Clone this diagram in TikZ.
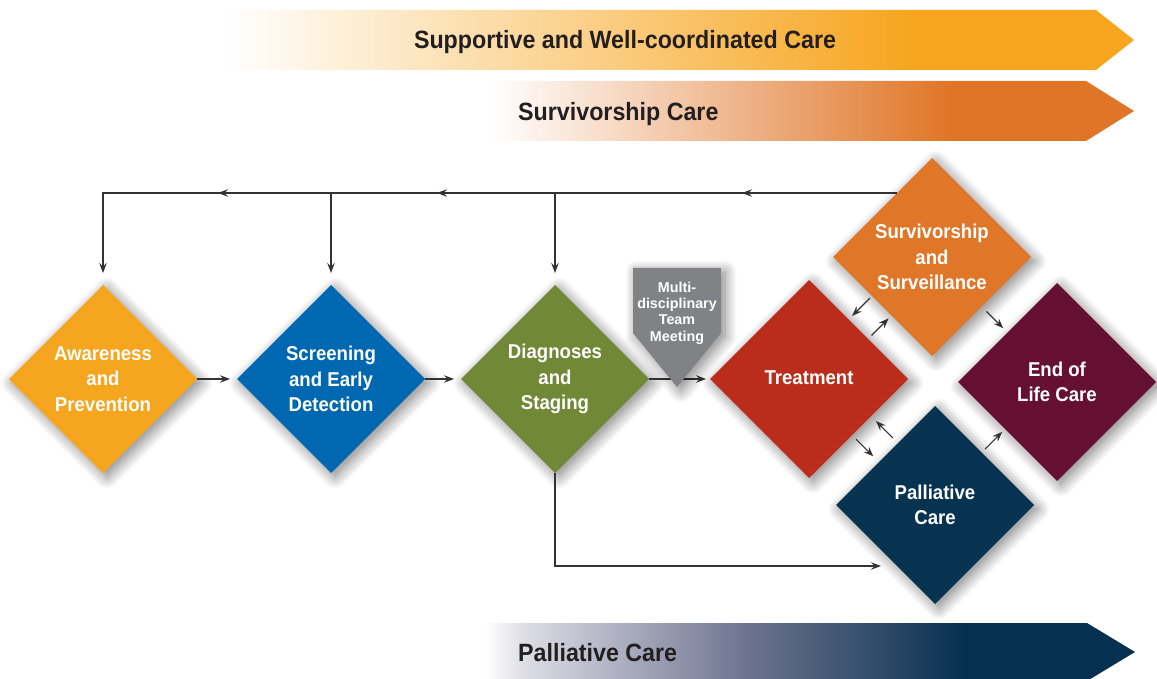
\documentclass[tikz,border=0pt]{standalone}
\usepackage{fontspec}
\setmainfont{Liberation Sans}
\newfontfamily\cfont[FakeStretch=0.93]{Liberation Sans}
\usetikzlibrary{shapes.geometric,arrows.meta,calc,decorations.markings,shadows.blur}
\definecolor{cAw}{HTML}{F6A51E}
\definecolor{cSc}{HTML}{0067B1}
\definecolor{cDg}{HTML}{718837}
\definecolor{cTr}{HTML}{BA2D1A}
\definecolor{cSv}{HTML}{E07628}
\definecolor{cEl}{HTML}{651033}
\definecolor{cPa}{HTML}{073351}
\definecolor{cMdt}{HTML}{808285}
\definecolor{cTop}{HTML}{F7A51E}
\definecolor{cSurv}{HTML}{E07527}
\definecolor{cPalLight}{HTML}{DDDDE5}
\definecolor{cPalMid}{HTML}{6E7490}
\definecolor{cPalEnd}{HTML}{06304F}
\definecolor{cTxt}{HTML}{231F20}
\definecolor{cLine}{HTML}{333333}
\pgfdeclarehorizontalshading{topshade}{100bp}{color(0bp)=(white); color(25bp)=(white); color(62.8bp)=(cTop); color(100bp)=(cTop)}
\pgfdeclarehorizontalshading{survshade}{100bp}{color(0bp)=(white); color(25bp)=(white); color(60.7bp)=(cSurv); color(100bp)=(cSurv)}
\pgfdeclarehorizontalshading{palshade}{100bp}{color(0bp)=(white); color(25bp)=(white); color(28bp)=(cPalLight); color(45bp)=(cPalMid); color(62bp)=(cPalEnd); color(100bp)=(cPalEnd)}
\tikzset{
  >={Stealth[length=10pt,width=7.5pt,inset=3.5pt]},
  softshadow/.style={blur shadow={shadow xshift=4pt, shadow yshift=-4pt, shadow blur radius=12pt, shadow blur steps=14, shadow opacity=50}},
  dia/.style={diamond, aspect=1, inner sep=0pt, outer sep=0pt, minimum width=#1, minimum height=#1,
    text=white, align=center, font=\cfont\bfseries\fontsize{20}{25.5}\selectfont, softshadow},
  bantext/.style={text=cTxt, font=\cfont\bfseries\fontsize{25}{30}\selectfont, inner sep=0pt},
  arr/.style={color=cLine, line width=1.1pt, ->}
}
\begin{document}
\begin{tikzpicture}[x=1pt,y=-1pt]
\useasboundingbox (0,0) rectangle (1157,679);
% banners
\shade[shading=topshade] (225,10) -- (1096,10) -- (1134,40) -- (1096,70) -- (225,70) -- cycle;
\node[bantext, anchor=base] (b1) at (625,49) {Supportive and Well-coordinated Care};
\shade[shading=survshade] (490,81) -- (1086,81) -- (1134,111) -- (1086,141) -- (490,141) -- cycle;
\node[bantext, anchor=base west] (b2) at (518,121) {Survivorship Care};
\shade[shading=palshade] (485,623) -- (1087,623) -- (1135,652) -- (1087,681) -- (485,681) -- cycle;
\node[bantext, anchor=base west] (b3) at (518,661) {Palliative Care};
% diamonds
\node[dia=188, fill=cAw] (aw) at (103,379) {Awareness\\and\\Prevention};
\node[dia=188, fill=cSc] (sc) at (331,379) {Screening\\and Early\\Detection};
\node[dia=188, fill=cDg] (dg) at (555,379) {Diagnoses\\and\\Staging};
\node[dia=198, fill=cSv] (sv) at (932,257) {Survivorship\\and\\Surveillance};
\node[dia=198, fill=cEl] (el) at (1057,382) {End of\\Life Care};
\node[dia=198, fill=cTr] (tr) at (809,379) {\raisebox{3pt}{Treatment}};
\node[dia=198, fill=cPa] (pa) at (935,505) {Palliative\\Care};
% feedback line on top
\coordinate (fb) at ($(sv.north)!0.3535!(sv.west)$);
\draw[arr, postaction={decorate}, decoration={markings,
    mark=at position 155pt with {\arrow{>}},
    mark=at position 460pt with {\arrow{>}},
    mark=at position 679pt with {\arrow{>}}}]
  (fb) -- (fb -| aw.north) -- ([yshift=12pt]aw.north);
\draw[arr] (sc.north |- fb) -- ([yshift=12pt]sc.north);
\draw[arr] (dg.north |- fb) -- ([yshift=12pt]dg.north);
% main flow
\draw[arr, shorten >=7pt] (aw.east) -- (sc.west);
\draw[arr, shorten >=7pt] (sc.east) -- (dg.west);
\draw[arr, shorten >=4pt] (dg.east) -- (tr.west);
% bottom line to palliative
\coordinate (pin) at ($(pa.west)!0.616!(pa.south)$);
\draw[arr, shorten >=16pt] (dg.south) -- (dg.south |- pin) -- (pin);
% small diagonal arrows
\coordinate (s1) at ($(sv.west)!0.394!(sv.south)$);
\draw[arr, shorten <=3pt, shorten >=5pt] (s1) -- ($(tr.north)!(s1)!(tr.east)$);
\coordinate (t1) at ($(tr.north)!0.596!(tr.east)$);
\draw[arr, shorten <=5pt, shorten >=4pt] (t1) -- ($(sv.west)!(t1)!(sv.south)$);
\coordinate (s2) at ($(sv.east)!0.5!(sv.south)$);
\draw[arr, shorten <=7pt, shorten >=6pt] (s2) -- ($(el.north)!(s2)!(el.west)$);
\coordinate (p1) at ($(pa.north)!0.374!(pa.west)$);
\draw[arr, shorten <=7pt, shorten >=7pt] (p1) -- ($(tr.east)!(p1)!(tr.south)$);
\coordinate (t2) at ($(tr.east)!0.566!(tr.south)$);
\draw[arr, shorten <=6pt, shorten >=8pt] (t2) -- ($(pa.north)!(t2)!(pa.west)$);
\coordinate (p2) at ($(pa.north)!0.47!(pa.east)$);
\draw[arr, shorten <=5pt, shorten >=4pt] (p2) -- ($(el.west)!(p2)!(el.south)$);
% multidisciplinary team meeting
\fill[cMdt, softshadow] (633,268) -- (721,268) -- (721,333) -- (677,387) -- (633,333) -- cycle;
\node[text=white, align=center, inner sep=0pt, font=\bfseries\fontsize{14.3}{16.3}\selectfont] (mdt) at (677,313) {Multi-\\disciplinary\\Team\\Meeting};
\end{tikzpicture}
\end{document}
